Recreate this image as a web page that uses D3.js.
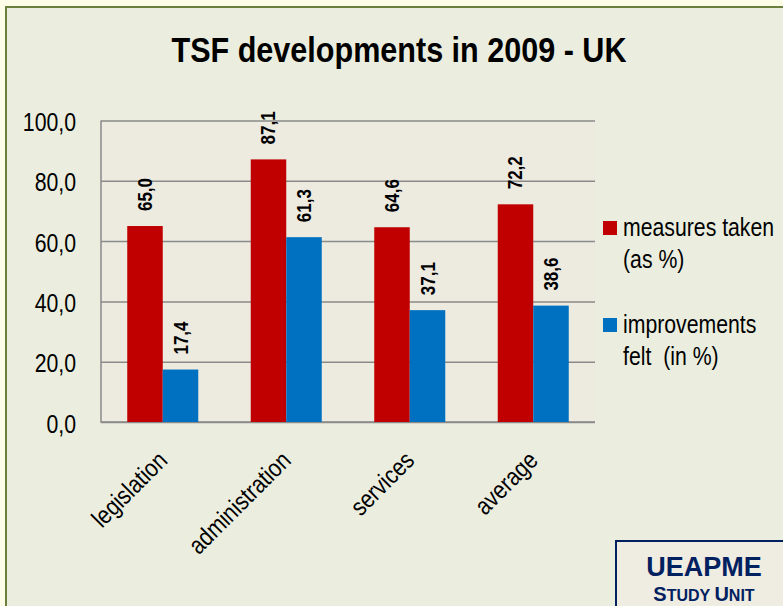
<!DOCTYPE html>
<html>
<head>
<meta charset="utf-8">
<script src="https://cdn.jsdelivr.net/npm/d3@7"></script>
<style>
  html, body { margin: 0; padding: 0; background: #fdfde8; }
  svg { display: block; }
</style>
</head>
<body>
<svg id="chart" width="783" height="606"></svg>
<script>
// chart values
var categories = ["legislation", "administration", "services", "average"];
var measuresTaken = [65.0, 87.1, 64.6, 72.2];
var improvementsFelt = [17.4, 61.3, 37.1, 38.6];
var seriesNames = [["measures taken", "(as %)"], ["improvements", "felt  (in %)"]];
var yTicks = [0, 20, 40, 60, 80, 100];

var gColors = {MEASURES: "#c00000", IMPROVE: "#0070c0", NAVY: "#002060", GRID: "#8a8a8a"};
var gFont = "'Liberation Sans', Arial, sans-serif";
var gNarrow = 0.85;   // the original uses a narrow face, squeeze the regular one

var width = 783, height = 606;
var plot = {left: 101, right: 595, top: 120.5, bottom: 422};

var svg = d3.select("#chart");

function fmt(v) {
    return d3.format(".1f")(v).replace(".", ",");
}

// outer frame
svg.append("rect")
    .attr("x", 6).attr("y", 7)
    .attr("width", width + 10).attr("height", height + 10)
    .attr("fill", "#ebeedf")
    .attr("stroke", "#6b803c")
    .attr("stroke-width", 2);

// title
svg.append("text")
    .attr("x", 399).attr("y", 62)
    .attr("text-anchor", "middle")
    .attr("font-family", gFont)
    .attr("font-weight", "bold")
    .attr("font-size", "35px")
    .attr("fill", "black")
    .attr("textLength", 455)
    .attr("lengthAdjust", "spacingAndGlyphs")
    .text("TSF developments in 2009 - UK");

var x0 = d3.scaleBand()
    .domain(categories)
    .range([plot.left, plot.right])
    .paddingInner(0.425)
    .paddingOuter(0.2125);

var x1 = d3.scaleBand()
    .domain([0, 1])
    .range([0, x0.bandwidth()]);

var y = d3.scaleLinear()
    .domain([0, 100])
    .range([plot.bottom, plot.top]);

// plot area
svg.append("rect")
    .attr("x", plot.left).attr("y", plot.top)
    .attr("width", plot.right - plot.left)
    .attr("height", plot.bottom - plot.top)
    .attr("fill", "#edebe0");

// gridlines + y labels via axis
var yAxis = svg.append("g")
    .attr("transform", "translate(" + plot.left + ",0)")
    .call(d3.axisLeft(y)
        .tickValues(yTicks)
        .tickSize(-(plot.right - plot.left))
        .tickFormat(fmt));
yAxis.select(".domain").remove();
yAxis.selectAll("line")
    .attr("stroke", gColors.GRID)
    .attr("stroke-width", 1.5);
yAxis.selectAll("text")
    .attr("x", 0)
    .attr("transform", "translate(-25,1) scale(" + gNarrow + ",1)")
    .attr("font-family", gFont)
    .attr("font-size", "25px")
    .attr("fill", "black")
    .attr("dy", "0.36em");

// plot border (left and bottom edges)
svg.append("path")
    .attr("d", "M" + plot.left + "," + plot.top + "V" + plot.bottom + "H" + plot.right)
    .attr("fill", "none")
    .attr("stroke", gColors.GRID)
    .attr("stroke-width", 1.5);

var rows = categories.map(function(c, i) {
    return {cat: c, vals: [measuresTaken[i], improvementsFelt[i]]};
});
var serColors = [gColors.MEASURES, gColors.IMPROVE];

var groups = svg.selectAll("g.cat")
    .data(rows)
    .enter().append("g")
    .attr("class", "cat")
    .attr("transform", function(d) { return "translate(" + x0(d.cat) + ",0)"; });

groups.selectAll("rect")
    .data(function(d) { return d.vals; })
    .enter().append("rect")
    .attr("x", function(d, i) { return x1(i); })
    .attr("width", x1.bandwidth())
    .attr("y", function(d) { return y(d); })
    .attr("height", function(d) { return y(0) - y(d); })
    .attr("fill", function(d, i) { return serColors[i]; });

// value labels, rotated
groups.selectAll("text")
    .data(function(d) { return d.vals; })
    .enter().append("text")
    .attr("transform", function(d, i) {
        var cx = x1(i) + x1.bandwidth() / 2 + 7;
        return "translate(" + cx + "," + (y(d) - 15) + ") rotate(-90) scale(" + gNarrow + ",1)";
    })
    .attr("font-family", gFont)
    .attr("font-weight", "bold")
    .attr("font-size", "20px")
    .attr("fill", "black")
    .text(fmt);

// category labels
svg.selectAll("text.catlabel")
    .data(categories)
    .enter().append("text")
    .attr("class", "catlabel")
    .attr("text-anchor", "end")
    .attr("transform", function(d) {
        return "translate(" + (x0(d) + x0.bandwidth() / 2 + 6) + ",462) rotate(-45) scale(" + gNarrow + ",1)";
    })
    .attr("font-family", gFont)
    .attr("font-size", "25px")
    .attr("fill", "black")
    .text(function(d) { return d; });

// legend
var legend = svg.selectAll("g.legend")
    .data(seriesNames)
    .enter().append("g")
    .attr("class", "legend")
    .attr("transform", function(d, i) { return "translate(603," + (221 + i * 97) + ")"; });

legend.append("rect")
    .attr("width", 14).attr("height", 14)
    .attr("fill", function(d, i) { return serColors[i]; });

legend.selectAll("text")
    .data(function(d) { return d; })
    .enter().append("text")
    .attr("transform", function(d, i) {
        return "translate(20," + (15 + i * 32) + ") scale(" + gNarrow + ",1)";
    })
    .attr("font-family", gFont)
    .attr("font-size", "25px")
    .attr("fill", "black")
    .attr("xml:space", "preserve")
    .style("white-space", "pre")
    .text(function(d) { return d; });

// UEAPME stamp
var stamp = svg.append("g");
stamp.append("rect")
    .attr("x", 616).attr("y", 541)
    .attr("width", 200).attr("height", 100)
    .attr("fill", "#efece2")
    .attr("stroke", gColors.NAVY)
    .attr("stroke-width", 2);
stamp.append("text")
    .attr("x", 704).attr("y", 576)
    .attr("text-anchor", "middle")
    .attr("font-family", gFont)
    .attr("font-weight", "bold")
    .attr("font-size", "27px")
    .attr("fill", gColors.NAVY)
    .text("UEAPME");
var su = stamp.append("text")
    .attr("x", 704).attr("y", 601)
    .attr("text-anchor", "middle")
    .attr("font-family", gFont)
    .attr("font-weight", "bold")
    .attr("font-size", "16px")
    .attr("fill", gColors.NAVY);
su.append("tspan").attr("font-size", "20px").text("S");
su.append("tspan").text("TUDY ");
su.append("tspan").attr("font-size", "20px").text("U");
su.append("tspan").text("NIT");
</script>
</body>
</html>
